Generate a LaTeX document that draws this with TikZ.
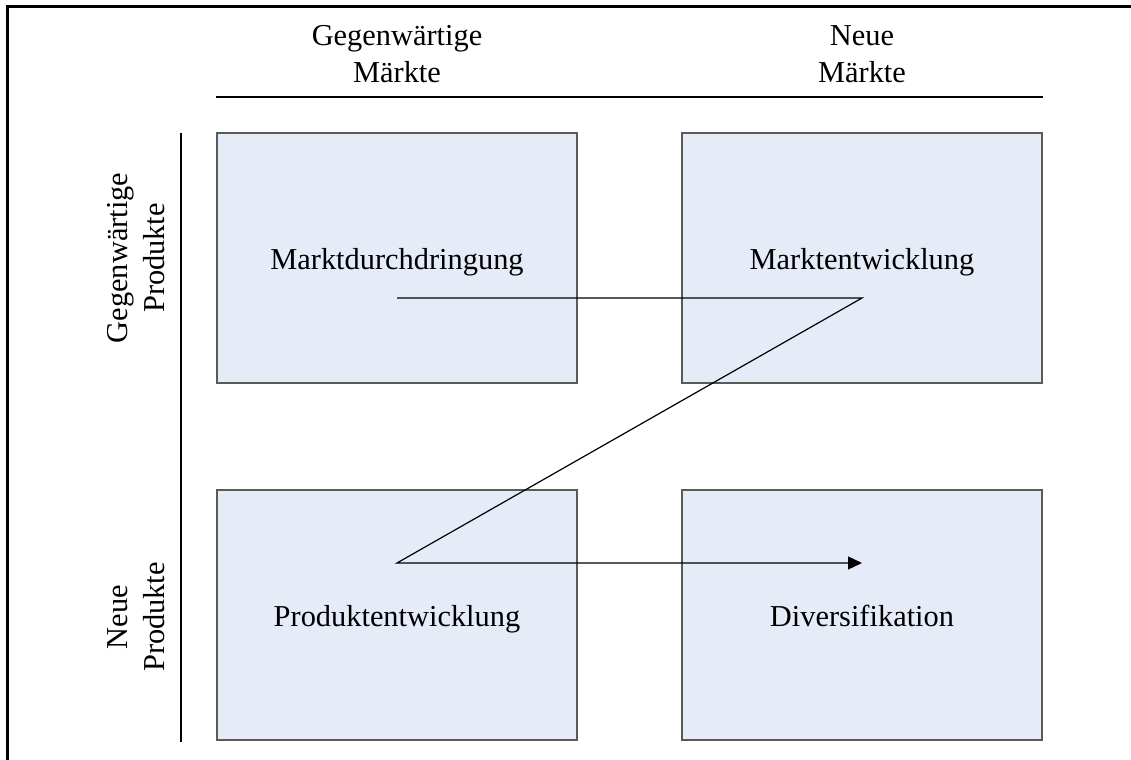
\documentclass[tikz,border=0pt]{standalone}
\usepackage{fontspec}
\setmainfont{Liberation Serif}
\usetikzlibrary{positioning, calc, arrows.meta}

\definecolor{feld}{HTML}{E6ECF7}
\definecolor{rand}{HTML}{5A5A5A}
\tikzset{
  feldbox/.style={draw=rand, fill=feld, line width=0.6pt, minimum width=180pt, minimum height=125pt, inner sep=0pt, text height=15pt, text depth=4pt, font=\fontsize{15.2}{18.5}\selectfont},
  kopf/.style={align=center, font=\fontsize{15.2}{18.5}\selectfont},
}

\begin{document}
\begin{tikzpicture}[x=0.5pt, y=-0.5pt]
    \useasboundingbox (0,0) rectangle (1131,760);
    \draw[line width=1.5pt](7,775)--(7,6)--(1145,6);
    \node[feldbox] (durch) at (397,258) {Marktdurchdringung};
    \node[feldbox] (markt) at (862,258) {Marktentwicklung};
    \node[feldbox] (prod) at (397,615) {Produktentwicklung};
    \node[feldbox] (divers) at (862,615) {Diversifikation};
    \node[kopf] (gm) at (397,54) {Gegenwärtige\\Märkte};
    \node[kopf] (nm) at (862,54) {Neue\\Märkte};
    \node[kopf, rotate=90] (gp) at (136,258) {Gegenwärtige\\Produkte};
    \node[kopf, rotate=90] (np) at (136,617) {Neue\\Produkte};
    \draw[line width=0.6pt](durch.north west|-0,97)--(markt.north east|-0,97);
    \draw[line width=0.6pt](181,133)--(181,742);
    \coordinate (p1) at (397,298);
    \coordinate (p2) at (862,298);
    \coordinate (p3) at (397,563);
    \coordinate (p4) at (862,563);
    \draw[line width=0.6pt, -{Triangle[length=7pt, width=6.5pt]}](p1)--(p2)--(p3)--(p4);
  \end{tikzpicture}
\end{document}
